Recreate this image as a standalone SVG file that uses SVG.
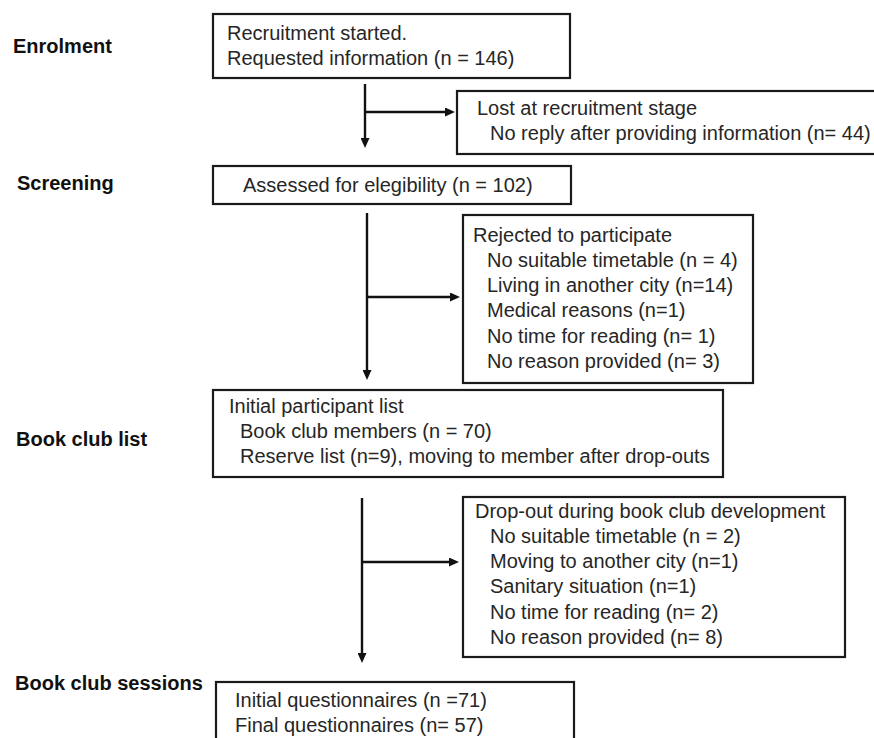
<svg xmlns="http://www.w3.org/2000/svg" width="874" height="738" viewBox="0 0 874 738">
  <style>
    .box { fill: #ffffff; stroke: #1a1a1a; stroke-width: 2.2; }
    .t { font-family: "Liberation Sans", Arial, sans-serif; font-size: 20px; fill: #262626; }
    .lbl { font-family: "Liberation Sans", Arial, sans-serif; font-size: 20px; font-weight: bold; fill: #111111; }
    .conn { fill: none; stroke: #111111; stroke-width: 2.4; }
  </style>
  <defs>
    <marker id="ah" markerUnits="userSpaceOnUse" markerWidth="10" markerHeight="9" refX="6" refY="4.5" orient="auto">
      <path d="M0,0 L10,4.5 L0,9 Z" fill="#111111"/>
    </marker>
  </defs>
  <rect width="874" height="738" fill="#ffffff"/>

  <g id="stage-labels">
    <text class="lbl" x="13" y="53">Enrolment</text>
    <text class="lbl" x="17" y="190">Screening</text>
    <text class="lbl" x="16" y="446">Book club list</text>
    <text class="lbl" x="15" y="690">Book club sessions</text>
  </g>

  <g id="n-recruitment">
    <rect class="box" x="213" y="14" width="357" height="64"/>
    <text class="t" x="227" y="40">Recruitment started.</text>
    <text class="t" x="227" y="65">Requested information (n = 146)</text>
  </g>

  <g id="n-lost">
    <rect class="box" x="457" y="91" width="430" height="63"/>
    <text class="t" x="477" y="115">Lost at recruitment stage</text>
    <text class="t" x="490" y="140">No reply after providing information (n= 44)</text>
  </g>

  <g id="n-screening">
    <rect class="box" x="213" y="166" width="358" height="38"/>
    <text class="t" x="243" y="192">Assessed for elegibility (n = 102)</text>
  </g>

  <g id="n-rejected">
    <rect class="box" x="463" y="215" width="290" height="168"/>
    <text class="t" x="473" y="242">Rejected to participate</text>
    <text class="t" x="487" y="267">No suitable timetable (n = 4)</text>
    <text class="t" x="487" y="292">Living in another city (n=14)</text>
    <text class="t" x="487" y="317">Medical reasons (n=1)</text>
    <text class="t" x="487" y="343">No time for reading (n= 1)</text>
    <text class="t" x="487" y="368">No reason provided (n= 3)</text>
  </g>

  <g id="n-booklist">
    <rect class="box" x="213" y="390" width="510" height="87"/>
    <text class="t" x="229" y="413">Initial participant list</text>
    <text class="t" x="240" y="438">Book club members (n = 70)</text>
    <text class="t" x="240" y="463">Reserve list (n=9), moving to member after drop-outs</text>
  </g>

  <g id="n-dropout">
    <rect class="box" x="463" y="497" width="382" height="160"/>
    <text class="t" x="475" y="518">Drop-out during book club development</text>
    <text class="t" x="490" y="543">No suitable timetable (n = 2)</text>
    <text class="t" x="490" y="568">Moving to another city (n=1)</text>
    <text class="t" x="490" y="593">Sanitary situation (n=1)</text>
    <text class="t" x="490" y="619">No time for reading (n= 2)</text>
    <text class="t" x="490" y="644">No reason provided (n= 8)</text>
  </g>

  <g id="n-sessions">
    <rect class="box" x="216" y="682" width="358" height="80"/>
    <text class="t" x="235" y="707">Initial questionnaires (n =71)</text>
    <text class="t" x="235" y="732">Final questionnaires (n= 57)</text>
  </g>

  <g id="connectors">
    <line class="conn" x1="365" y1="84" x2="365" y2="144" marker-end="url(#ah)"/>
    <line class="conn" x1="365" y1="112" x2="451" y2="112" marker-end="url(#ah)"/>
    <line class="conn" x1="367" y1="213" x2="367" y2="376" marker-end="url(#ah)"/>
    <line class="conn" x1="367" y1="297" x2="456" y2="297" marker-end="url(#ah)"/>
    <line class="conn" x1="362" y1="498" x2="362" y2="659" marker-end="url(#ah)"/>
    <line class="conn" x1="362" y1="562" x2="455" y2="562" marker-end="url(#ah)"/>
  </g>
</svg>
